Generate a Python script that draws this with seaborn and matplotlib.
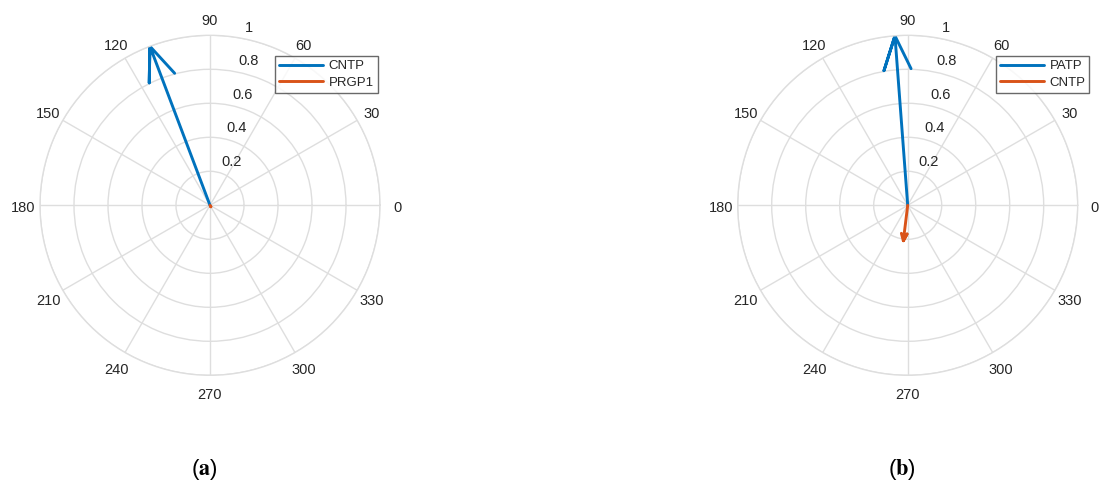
import numpy as np
import pandas as pd
import matplotlib
matplotlib.use("Agg")
import matplotlib.pyplot as plt
import matplotlib.transforms as mtransforms
import seaborn as sns

# ---- data -------------------------------------------------------------
# panel (a)
a_names = ["CNTP", "PRGP1"]
a_angles_deg = [110.7, 300.0]
a_magnitudes = [1.0, 0.01]

# panel (b)
b_names = ["PATP", "CNTP"]
b_angles_deg = [94.3, 263.0]
b_magnitudes = [1.0, 0.21]

theta_ticks = [0, 30, 60, 90, 120, 150, 180, 210, 240, 270, 300, 330]
theta_labels = [str(t) for t in theta_ticks]
r_ticks = [0.2, 0.4, 0.6, 0.8, 1.0]
r_labels = ["0.2", "0.4", "0.6", "0.8", "1"]
captions = ["a", "b"]

# ---- style ------------------------------------------------------------
sns.set_style("white")
plt.rcParams["font.family"] = ["Liberation Sans", "DejaVu Sans"]
plt.rcParams["mathtext.fontset"] = "stix"

BLUE = "#0072BD"
ORANGE = "#D95319"
GRID = "#dedede"
TEXT = "#262626"
colors = [BLUE, ORANGE]


def compass_arrow(angle_deg, mag):
    """Compass-style arrow: shaft plus two barbs, returned as (theta, r)."""
    z = mag * np.exp(1j * np.deg2rad(angle_deg))
    pts = np.array([0, 1, 0.8 + 0.08j, 1, 0.8 - 0.08j]) * z
    return np.angle(pts), np.abs(pts)


def compass_panel(fig, rect, names, angles, mags, legend_anchor):
    ax = fig.add_axes(rect, projection="polar")
    ax.set_facecolor("white")
    for name, ang, mag, col in zip(names, angles, mags, colors):
        th, r = compass_arrow(ang, mag)
        df = pd.DataFrame({"theta": th, "r": r})
        sns.lineplot(data=df, x="theta", y="r", ax=ax, sort=False,
                     estimator=None, color=col, linewidth=2.1, label=name,
                     solid_capstyle="round", solid_joinstyle="round")
    ax.set_ylim(0, 1)
    ax.set_xlabel("")
    ax.set_ylabel("")
    ax.set_thetagrids(theta_ticks, [""] * len(theta_ticks))
    ax.set_rgrids(r_ticks, labels=[""] * len(r_ticks))
    ax.grid(True, color=GRID, linewidth=1.0)
    ax.spines["polar"].set_color(GRID)
    ax.spines["polar"].set_linewidth(1.0)

    # angle labels just outside the outer ring
    down = mtransforms.offset_copy(ax.transData, fig=fig, x=0, y=-2.5,
                                   units="dots")
    for t, lab in zip(theta_ticks, theta_labels):
        ax.text(np.deg2rad(t), 1.1, lab, transform=down, ha="center",
                va="center", fontsize=10.5, color=TEXT, clip_on=False)

    # radius labels along the 80 degree spoke
    off = mtransforms.offset_copy(ax.transData, fig=fig, x=5, y=10,
                                  units="dots")
    for rv, lab in zip(r_ticks, r_labels):
        ax.text(np.deg2rad(80), rv, lab, transform=off, ha="left",
                va="center", fontsize=10.5, color=TEXT, clip_on=False)

    leg = ax.legend(loc="upper left", bbox_to_anchor=legend_anchor,
                    bbox_transform=fig.transFigure, frameon=True,
                    fancybox=False, fontsize=9.5, handlelength=3.3,
                    handletextpad=0.45, borderpad=0.3, labelspacing=0.35,
                    borderaxespad=0.0)
    leg.get_frame().set_edgecolor("#444444")
    leg.get_frame().set_linewidth(1.0)
    for t in leg.get_texts():
        t.set_color(TEXT)
    return ax


W, H = 1100, 491
fig = plt.figure(figsize=(W / 100, H / 100), dpi=100)
fig.patch.set_facecolor("white")

R = 170.0
centers = [(210.0, 205.3), (907.7, 205.3)]
legend_corners = [(275, 56), (996, 56)]
panels = [(a_names, a_angles_deg, a_magnitudes),
          (b_names, b_angles_deg, b_magnitudes)]

for (cx, cy), (lx, ly), (names, angs, mags) in zip(centers, legend_corners,
                                                    panels):
    rect = [(cx - R) / W, 1 - (cy + R) / H, 2 * R / W, 2 * R / H]
    compass_panel(fig, rect, names, angs, mags, (lx / W, 1 - ly / H))

for (cx, _), cap in zip(centers, captions):
    fig.text((cx - 6) / W, 1 - 470 / H, r"($\mathbf{" + cap + r"}$)",
             ha="center", va="center", fontsize=16, color="black")

fig.savefig("out.png", dpi=100, facecolor="white")
